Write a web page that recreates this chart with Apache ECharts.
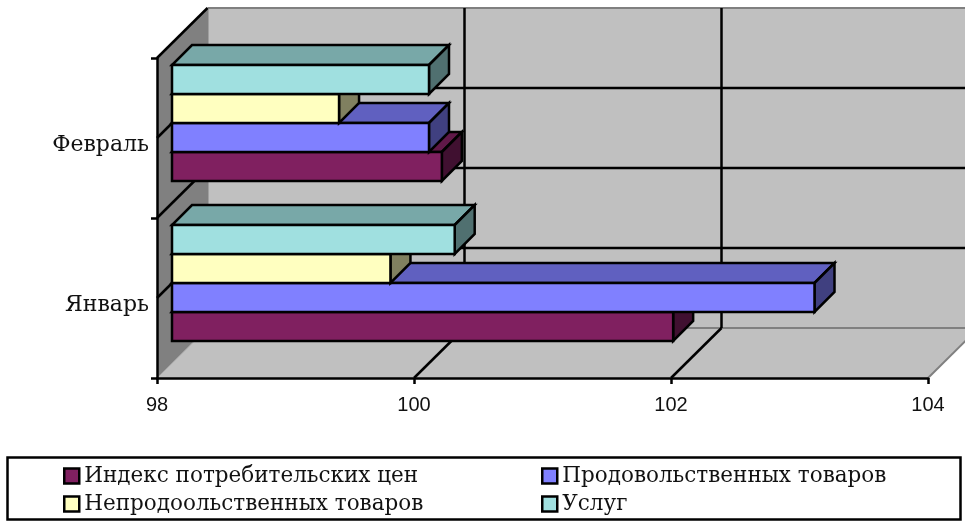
<!DOCTYPE html>
<html><head><meta charset="utf-8">
<style>html,body{margin:0;padding:0;background:#fff}#c{width:965px;height:523px}</style>
<script src="https://cdn.jsdelivr.net/npm/echarts@6/dist/echarts.min.js"></script>
</head><body><div id="c"></div>
<script>
const categories = ['Январь', 'Февраль'];
const xTicks = [98, 100, 102, 104];
const seriesNames = ['Индекс потребительских цен', 'Продовольственных товаров', 'Непродоольственных товаров', 'Услуг'];
const indexValues = [101.9, 100.1];
const foodValues = [103.0, 100.0];
const nonFoodValues = [99.7, 99.3];
const serviceValues = [100.2, 100.0];
const allValues = [indexValues, foodValues, nonFoodValues, serviceValues];
const frontColors = ['#802060', '#8080FF', '#FFFFC0', '#A0E0E0'];
const topColors = ['#601848', '#6060C0', '#BFBF90', '#78A8A8'];
const sideColors = ['#401030', '#404080', '#808060', '#507070'];

const WALL_DX = 50.5, WALL_DY = 50, BAR_OFF = 15, BAR_DEPTH = 20, PITCH = 29, GAP = 22, LW = 2.5;
const serif = '"DejaVu Serif", serif';
const xMin = xTicks[0], xMax = xTicks[xTicks.length - 1];

function poly(pts, fill, stroke, lw) {
  return { type: 'polygon', shape: { points: pts }, style: { fill: fill, stroke: stroke || null, lineWidth: lw || 0, lineJoin: 'miter' } };
}
function line(x1, y1, x2, y2, stroke, lw) {
  return { type: 'line', shape: { x1, y1, x2, y2 }, style: { stroke: stroke, lineWidth: lw } };
}
function renderWalls(params, api) {
  const L = api.coord([xMin, 0])[0], R = api.coord([xMax, 0])[0];
  const band = api.size([0, 1])[1];
  const B = api.coord([xMin, 0])[1] + band / 2;
  const T = api.coord([xMin, categories.length - 1])[1] - band / 2;
  const dx = WALL_DX, dy = WALL_DY, kids = [];
  kids.push(poly([[L + dx, T - dy], [R + dx, T - dy], [R + dx, B - dy], [L + dx, B - dy]], '#C0C0C0'));
  kids.push(poly([[L, B], [R, B], [R + dx, B - dy], [L + dx, B - dy]], '#C0C0C0'));
  kids.push(poly([[L, T], [L + dx, T - dy], [L + dx, B - dy], [L, B]], '#808080'));
  kids.push(line(L + dx, T - dy, R + dx, T - dy, '#808080', 2));
  kids.push(line(L + dx, T - dy, L + dx, B - dy, '#808080', 2));
  kids.push(line(L + dx, B - dy, R + dx, B - dy, '#808080', 2));
  kids.push(line(R, B, R + dx, B - dy, '#808080', 2));
  kids.push(line(L, B, L + dx, B - dy, '#A0A0A0', 1));
  xTicks.slice(1, -1).forEach(v => {
    const x = api.coord([v, 0])[0];
    kids.push(line(x + dx, T - dy, x + dx, B - dy, '#000', LW));
    kids.push(line(x, B, x + dx, B - dy, '#000', LW));
  });
  for (let k = 1; k < categories.length * 2; k++) {
    const y = T + k * band / 2;
    kids.push(line(L + dx, y - dy, R + dx, y - dy, '#000', LW));
    kids.push(line(L, y, L + dx, y - dy, '#000', LW));
  }
  kids.push(line(L, T, L + dx, T - dy, '#000', LW));
  return { type: 'group', children: kids };
}
function renderBar(s) {
  return function (params, api) {
    const v = api.value(0), cat = api.value(1);
    const band = api.size([0, 1])[1];
    const p = api.coord([v, cat]), p0 = api.coord([xMin, cat]);
    const bottom = p[1] + band / 2 - GAP - BAR_OFF - s * PITCH;
    const top = bottom - PITCH;
    const l = p0[0] + BAR_OFF, r = p[0] + BAR_OFF, d = BAR_DEPTH;
    return { type: 'group', children: [
      poly([[l, top], [r, top], [r + d, top - d], [l + d, top - d]], topColors[s], '#000', LW),
      poly([[r, top], [r + d, top - d], [r + d, bottom - d], [r, bottom]], sideColors[s], '#000', LW),
      poly([[l, top], [r, top], [r, bottom], [l, bottom]], frontColors[s], '#000', LW)
    ] };
  };
}
const barSeries = seriesNames.map((name, s) => ({
  name: name, type: 'custom', z: 3 + s, silent: true,
  itemStyle: { color: frontColors[s] },
  encode: { x: 0, y: 1 },
  renderItem: renderBar(s),
  data: allValues[s].map((v, i) => [v, i])
}));
const legendBase = {
  orient: 'vertical', top: 460, itemWidth: 15, itemHeight: 15, itemGap: 6, icon: 'rect',
  itemStyle: { borderColor: '#000', borderWidth: 2.5 },
  textStyle: { fontFamily: serif, fontSize: 21.5, color: '#111', padding: [0, 0, 0, 0] },
  selectedMode: false
};
const chart = echarts.init(document.getElementById('c'), null, { renderer: 'canvas' });
chart.setOption({
  animation: false,
  backgroundColor: '#fff',
  tooltip: { show: false },
  grid: { left: 157, width: 771, top: 58, height: 320, containLabel: false },
  xAxis: {
    type: 'value', min: xMin, max: xMax, interval: 2, z: 2,
    axisLine: { show: true, lineStyle: { color: '#000', width: LW } },
    axisTick: { show: true, length: 6, lineStyle: { color: '#000', width: LW } },
    splitLine: { show: false },
    axisLabel: { fontFamily: '"Liberation Sans", Arial, sans-serif', fontSize: 20, color: '#111', margin: 17, showMinLabel: true, showMaxLabel: true }
  },
  yAxis: {
    type: 'category', data: categories, z: 2,
    axisLine: { show: true, lineStyle: { color: '#000', width: LW } },
    axisTick: { show: true, length: 6, lineStyle: { color: '#000', width: LW } },
    splitLine: { show: false },
    axisLabel: { fontFamily: serif, fontSize: 22, color: '#111', margin: 8, verticalAlign: 'top', lineHeight: 14 }
  },
  legend: [
    Object.assign({}, legendBase, { left: 58, data: [seriesNames[0], seriesNames[2]] }),
    Object.assign({}, legendBase, { left: 536, data: [seriesNames[1], seriesNames[3]] })
  ],
  graphic: [{
    type: 'rect', z: -1, silent: true,
    shape: { x: 7.5, y: 457.5, width: 953, height: 62 },
    style: { fill: '#fff', stroke: '#000', lineWidth: 2.5 }
  }],
  series: [{
    name: 'walls', type: 'custom', z: 1, silent: true,
    encode: { x: 0, y: 1 },
    renderItem: renderWalls,
    data: [[xMin, 0]]
  }].concat(barSeries)
});
</script></body></html>
